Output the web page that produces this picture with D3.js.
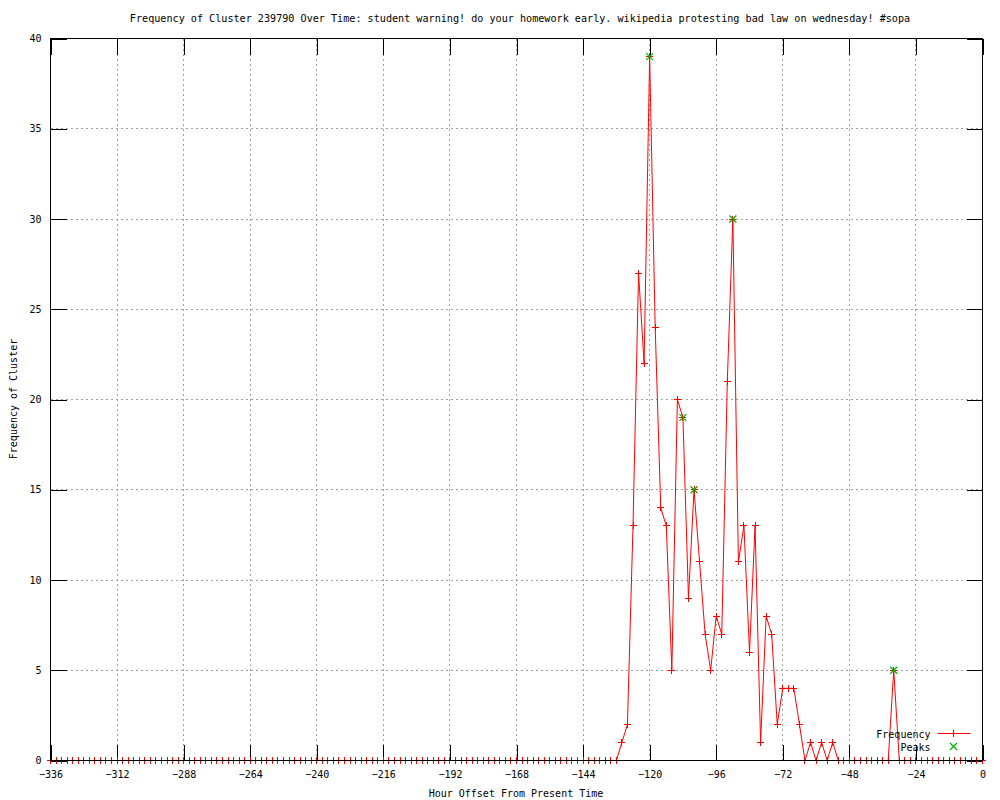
<!DOCTYPE html>
<html>
<head>
<meta charset="utf-8">
<script src="https://cdn.jsdelivr.net/npm/d3@7"></script>
<style>
  body { margin: 0; background: #fff; }
  svg text { font-family: "DejaVu Sans Mono", "Liberation Mono", monospace; font-size: 10px; fill: #000; }
</style>
</head>
<body>
<div id="chart"></div>
<script>
// hours offset, one sample every 2 hours from -336 to 0
const hours = d3.range(-336, 1, 2);

// frequency for each hour in `hours`
const frequency = [
  0, 0, 0, 0, 0, 0, 0, 0, 0, 0, 0, 0, 0, 0, 0, 0, 0, 0, 0, 0,
  0, 0, 0, 0, 0, 0, 0, 0, 0, 0, 0, 0, 0, 0, 0, 0, 0, 0, 0, 0,
  0, 0, 0, 0, 0, 0, 0, 0, 0, 0, 0, 0, 0, 0, 0, 0, 0, 0, 0, 0,
  0, 0, 0, 0, 0, 0, 0, 0, 0, 0, 0, 0, 0, 0, 0, 0, 0, 0, 0, 0,
  0, 0, 0, 0, 0, 0, 0, 0, 0, 0, 0, 0, 0, 0, 0, 0, 0, 0, 0, 0,
  0, 0, 0, 1, 2, 13, 27, 22, 39, 24, 14, 13, 5, 20, 19, 9, 15, 11, 7, 5,
  8, 7, 21, 30, 11, 13, 6, 13, 1, 8, 7, 2, 4, 4, 4, 2, 0, 1, 0, 1,
  0, 1, 0, 0, 0, 0, 0, 0, 0, 0, 0, 0, 5, 0, 0, 0, 0, 0, 0, 0,
  0, 0, 0, 0, 0, 0, 0, 0, 0
];

const peakHours = [-120, -108, -104, -90, -32];
const peakValues = [39, 19, 15, 30, 5];

const xTicks = [-336, -312, -288, -264, -240, -216, -192, -168, -144, -120, -96, -72, -48, -24, 0];
const yTicks = [0, 5, 10, 15, 20, 25, 30, 35, 40];

const titleText = "Frequency of Cluster 239790 Over Time: student warning! do your homework early. wikipedia protesting bad law on wednesday! #sopa";

const w = 1000;
const h = 800;
const plotLeft = 50, plotRight = 982, plotTop = 38, plotBottom = 760;
const red = "#ff0000", green = "#00b000";

const freqData = hours.map((hr, i) => ({hour: hr, value: frequency[i]}));
const peakData = peakHours.map((hr, i) => ({hour: hr, value: peakValues[i]}));

const svg = d3.select("#chart")
  .append("svg")
  .attr("width", w)
  .attr("height", h);

const g = svg.append("g").attr("transform", "translate(0.5,0.5)");

const xScale = d3.scaleLinear().domain([-336, 0]).range([plotLeft, plotRight]);
const yScale = d3.scaleLinear().domain([0, 40]).range([plotBottom, plotTop]);

// grid
g.append("g")
  .selectAll("line")
  .data(xTicks.slice(1, -1))
  .join("line")
  .attr("x1", d => xScale(d)).attr("x2", d => xScale(d))
  .attr("y1", plotTop).attr("y2", plotBottom)
  .style("stroke", "#a0a0a0")
  .attr("stroke-dasharray", "2,3")
  .attr("shape-rendering", "crispEdges");

g.append("g")
  .selectAll("line")
  .data(yTicks.slice(1, -1))
  .join("line")
  .attr("x1", plotLeft).attr("x2", plotRight)
  .attr("y1", d => yScale(d)).attr("y2", d => yScale(d))
  .style("stroke", "#a0a0a0")
  .attr("stroke-dasharray", "2,3")
  .attr("shape-rendering", "crispEdges");

// axes with inward ticks, mirrored
const tickLen = 16;
function clean(sel) {
  sel.select(".domain").remove();
  sel.selectAll("line").style("stroke", "#000").attr("shape-rendering", "crispEdges");
  sel.attr("font-family", null).attr("font-size", null);
}

g.append("g")
  .attr("transform", "translate(0," + plotBottom + ")")
  .call(d3.axisBottom(xScale).tickValues(xTicks).tickSize(-tickLen).tickPadding(10))
  .call(clean);

g.append("g")
  .attr("transform", "translate(0," + plotTop + ")")
  .call(d3.axisTop(xScale).tickValues(xTicks).tickSize(-tickLen).tickFormat(""))
  .call(clean);

g.append("g")
  .attr("transform", "translate(" + plotLeft + ",0)")
  .call(d3.axisLeft(yScale).tickValues(yTicks).tickSize(-tickLen).tickPadding(9))
  .call(clean);

g.append("g")
  .attr("transform", "translate(" + plotRight + ",0)")
  .call(d3.axisRight(yScale).tickValues(yTicks).tickSize(-tickLen).tickFormat(""))
  .call(clean);

// frequency line
const freqLine = d3.line()
  .x(d => xScale(d.hour))
  .y(d => yScale(d.value));

g.append("path")
  .datum(freqData)
  .style("fill", "none")
  .style("stroke", red)
  .style("stroke-width", 1)
  .attr("d", freqLine);

const plusSize = 3.5;
function plusPath(cx, cy) {
  return "M" + (cx - plusSize) + "," + cy + "H" + (cx + plusSize) +
         "M" + cx + "," + (cy - plusSize) + "V" + (cy + plusSize);
}
function crossPath(cx, cy) {
  const s = 3.5;
  return "M" + (cx - s) + "," + (cy - s) + "L" + (cx + s) + "," + (cy + s) +
         "M" + (cx - s) + "," + (cy + s) + "L" + (cx + s) + "," + (cy - s);
}

g.append("g")
  .selectAll("path")
  .data(freqData)
  .join("path")
  .attr("d", d => plusPath(xScale(d.hour), yScale(d.value)))
  .style("fill", "none")
  .style("stroke", red)
  .attr("shape-rendering", "crispEdges");

// border on top of the zero line
g.append("rect")
  .attr("x", plotLeft).attr("y", plotTop)
  .attr("width", plotRight - plotLeft).attr("height", plotBottom - plotTop)
  .style("fill", "none")
  .style("stroke", "#000")
  .attr("shape-rendering", "crispEdges");

// peaks
g.append("g")
  .selectAll("path")
  .data(peakData)
  .join("path")
  .attr("d", d => crossPath(xScale(d.hour), yScale(d.value)))
  .style("fill", "none")
  .style("stroke", green)
  .style("stroke-width", 1.2);

// legend
const legend = g.append("g");
legend.append("text").attr("x", 930).attr("y", 737).attr("text-anchor", "end").text("Frequency");
legend.append("path")
  .attr("d", "M937,733H970" + plusPath(953, 733))
  .style("fill", "none").style("stroke", red).style("stroke-width", 1.2);
legend.append("text").attr("x", 930).attr("y", 750).attr("text-anchor", "end").text("Peaks");
legend.append("path").attr("d", crossPath(953, 746))
  .style("fill", "none").style("stroke", green).style("stroke-width", 1.2);

// titles
svg.append("text")
  .attr("x", 520).attr("y", 22)
  .attr("text-anchor", "middle")
  .style("font-size", "10.15px")
  .text(titleText);

svg.append("text")
  .attr("x", (plotLeft + plotRight) / 2).attr("y", 797)
  .attr("text-anchor", "middle")
  .text("Hour Offset From Present Time");

svg.append("text")
  .attr("transform", "translate(17," + ((plotTop + plotBottom) / 2) + ") rotate(-90)")
  .attr("text-anchor", "middle")
  .text("Frequency of Cluster");
</script>
</body>
</html>
